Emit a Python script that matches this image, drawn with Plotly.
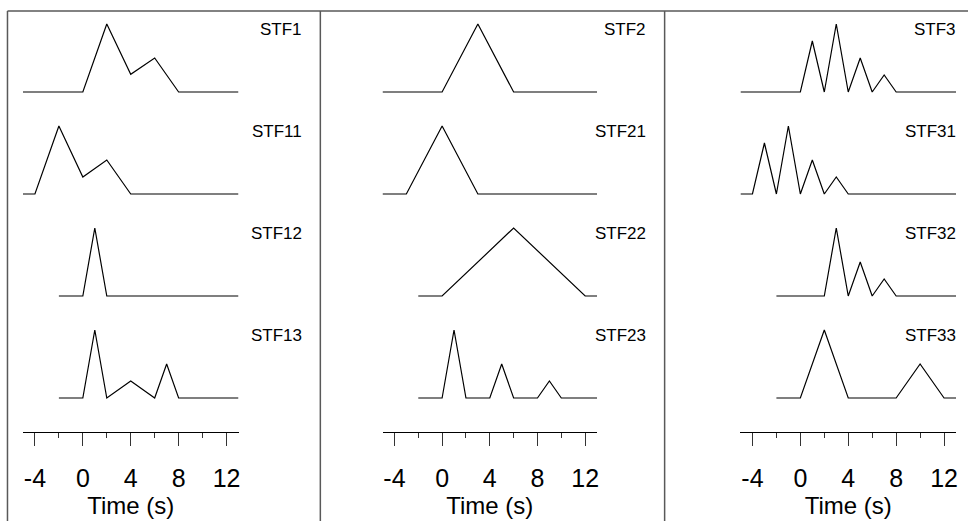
import plotly.graph_objects as go

# Source time functions (time in s, amplitude normalised to the largest peak)
stf1_t = [-5, 0, 2, 4, 6, 8, 13]
stf1_a = [0, 0, 1, 0.26, 0.5, 0, 0]
stf11_t = [-5, -4, -2, 0, 2, 4, 13]
stf11_a = [0, 0, 1, 0.25, 0.5, 0, 0]
stf12_t = [-2, 0, 1, 2, 13]
stf12_a = [0, 0, 1, 0, 0]
stf13_t = [-2, 0, 1, 2, 4, 6, 7, 8, 13]
stf13_a = [0, 0, 1, 0, 0.25, 0, 0.5, 0, 0]

stf2_t = [-5, 0, 3, 6, 13]
stf2_a = [0, 0, 1, 0, 0]
stf21_t = [-5, -3, 0, 3, 13]
stf21_a = [0, 0, 1, 0, 0]
stf22_t = [-2, 0, 6, 12, 13]
stf22_a = [0, 0, 1, 0, 0]
stf23_t = [-2, 0, 1, 2, 4, 5, 6, 8, 9, 10, 13]
stf23_a = [0, 0, 1, 0, 0, 0.5, 0, 0, 0.25, 0, 0]

stf3_t = [-5, 0, 1, 2, 3, 4, 5, 6, 7, 8, 13]
stf3_a = [0, 0, 0.75, 0, 1, 0, 0.5, 0, 0.25, 0, 0]
stf31_t = [-5, -4, -3, -2, -1, 0, 1, 2, 3, 4, 13]
stf31_a = [0, 0, 0.75, 0, 1, 0, 0.5, 0, 0.25, 0, 0]
stf32_t = [-2, 2, 3, 4, 5, 6, 7, 8, 13]
stf32_a = [0, 0, 1, 0, 0.5, 0, 0.25, 0, 0]
stf33_t = [-2, 0, 2, 4, 8, 10, 12, 13]
stf33_a = [0, 0, 1, 0, 0, 0.5, 0, 0]

panels = [
    [("STF1", stf1_t, stf1_a), ("STF11", stf11_t, stf11_a),
     ("STF12", stf12_t, stf12_a), ("STF13", stf13_t, stf13_a)],
    [("STF2", stf2_t, stf2_a), ("STF21", stf21_t, stf21_a),
     ("STF22", stf22_t, stf22_a), ("STF23", stf23_t, stf23_a)],
    [("STF3", stf3_t, stf3_a), ("STF31", stf31_t, stf31_a),
     ("STF32", stf32_t, stf32_a), ("STF33", stf33_t, stf33_a)],
]

time_ticks = [-4, 0, 4, 8, 12]
time_tick_labels = ["-4", "0", "4", "8", "12"]
time_range = [-5, 13]

# ---- layout geometry (pixels) ----
W, H = 970, 521
FONT = "Liberation Sans, Arial, sans-serif"
row_step = 1.5            # vertical spacing between stacked traces
plot_top_px, axis_px = 11, 432
x_dom_px = [(23, 239), (383.3, 598.3), (742, 958)]
label_right_px = [305, 649, 960]
divider_px = [7.5, 321, 666]
frame_color = "#595959"

y_lo = -5.0
y_hi = (92 - plot_top_px) / 68.0
y_dom = [(H - axis_px) / H, (H - plot_top_px) / H]

fig = go.Figure()
layout = dict(
    width=W, height=H,
    margin=dict(l=0, r=0, t=0, b=0),
    paper_bgcolor="white", plot_bgcolor="white",
    showlegend=False,
    annotations=[], shapes=[],
)

for p, rows in enumerate(panels):
    n = "" if p == 0 else str(p + 1)
    xa, ya = "x" + n, "y" + n
    for r, (name, t, a) in enumerate(rows):
        off = -row_step * r
        fig.add_trace(go.Scatter(
            x=t, y=[v + off for v in a], mode="lines",
            line=dict(color="black", width=1.2),
            xaxis=xa, yaxis=ya, hoverinfo="skip", cliponaxis=False,
        ))
        layout["annotations"].append(dict(
            text=name, xref="paper", yref=ya,
            x=label_right_px[p] / W, y=off + 0.92,
            xanchor="right", yanchor="middle", showarrow=False,
            font=dict(family=FONT, size=17, color="black"),
        ))
    x0, x1 = x_dom_px[p]
    layout["xaxis" + n] = dict(
        domain=[x0 / W, x1 / W], range=time_range, anchor=ya,
        showgrid=False, zeroline=False,
        showline=True, linecolor="black", linewidth=1,
        tickmode="array", tickvals=time_ticks, ticktext=time_tick_labels,
        ticks="outside", ticklen=13, tickwidth=1, tickcolor="#333333",
        minor=dict(ticks="outside", ticklen=5, tickwidth=1,
                   tickcolor="#333333", dtick=2, tick0=0, showgrid=False),
        ticklabelstandoff=11,
        tickfont=dict(family=FONT, size=25, color="black"),
        title=dict(text="Time (s)", standoff=2,
                   font=dict(family=FONT, size=24, color="black")),
        fixedrange=True,
    )
    layout["yaxis" + n] = dict(
        domain=y_dom, range=[y_lo, y_hi], anchor=xa,
        visible=False, fixedrange=True,
    )

# panel frame: top rule and vertical separators
top = (H - plot_top_px) / H
layout["shapes"].append(dict(type="line", xref="paper", yref="paper",
                             x0=divider_px[0] / W, x1=1, y0=top, y1=top,
                             line=dict(color=frame_color, width=1.5)))
for xp in divider_px:
    layout["shapes"].append(dict(type="line", xref="paper", yref="paper",
                                 x0=xp / W, x1=xp / W, y0=0, y1=top,
                                 line=dict(color=frame_color, width=1.5)))

fig.update_layout(**layout)
fig.write_html("out.html")
